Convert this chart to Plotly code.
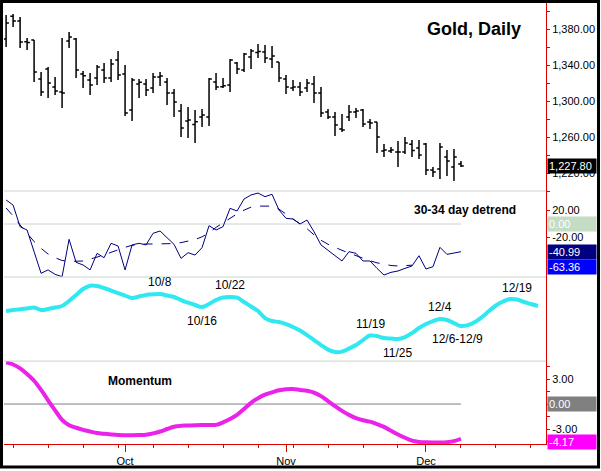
import pandas as pd
import plotly.graph_objects as go
from plotly.subplots import make_subplots

# trading days: bars run 9/6 - 12/9, the cycle projection runs on to 12/24
days = pd.bdate_range("2013-09-06", "2013-12-24", freq="C", holidays=["2013-11-28"])

opens = [1368.9, 1394.4, 1388.9, 1366.0, 1367.8, 1324.4, 1335.6, 1315.6, 1310.0, 1366.7,
         1368.9, 1330.0, 1323.3, 1325.6, 1334.4, 1325.6, 1345.6, 1330.0, 1290.0, 1319.0,
         1318.9, 1314.4, 1326.7, 1321.1, 1308.9, 1288.9, 1277.8, 1274.0, 1282.2, 1282.2,
         1321.1, 1316.0, 1317.8, 1342.2, 1334.4, 1348.9, 1354.0, 1354.4, 1346.7, 1343.3,
         1324.4, 1314.4, 1315.6, 1314.4, 1318.9, 1308.9, 1287.8, 1282.2, 1268.9, 1282.2,
         1287.8, 1290.0, 1276.7, 1276.7, 1244.4, 1244.4, 1243.3, 1243.3, 1252.0, 1247.8,
         1252.2, 1223.3, 1224.4, 1237.8, 1226.7, 1230.0]
highs = [1395.6, 1396.7, 1393.3, 1370.0, 1367.8, 1332.2, 1337.8, 1326.7, 1370.0, 1376.7,
         1370.0, 1333.3, 1331.1, 1340.0, 1342.2, 1346.7, 1355.6, 1340.0, 1325.6, 1324.4,
         1324.4, 1331.1, 1332.2, 1325.6, 1313.3, 1296.7, 1293.3, 1290.0, 1291.1, 1325.6,
         1331.1, 1325.6, 1346.7, 1343.3, 1353.3, 1357.8, 1363.3, 1362.2, 1361.1, 1343.3,
         1328.9, 1323.3, 1321.1, 1324.4, 1327.8, 1315.6, 1291.1, 1287.8, 1285.6, 1295.6,
         1292.2, 1291.1, 1280.0, 1276.7, 1252.2, 1248.9, 1255.6, 1260.0, 1256.7, 1256.7,
         1253.3, 1226.7, 1253.3, 1245.6, 1246.7, 1233.3]
lows = [1360.0, 1382.2, 1358.9, 1356.7, 1321.1, 1305.6, 1303.3, 1306.7, 1292.2, 1358.9,
        1325.6, 1314.4, 1306.7, 1317.8, 1320.0, 1321.1, 1323.3, 1283.3, 1277.8, 1303.3,
        1305.6, 1308.9, 1316.7, 1295.6, 1282.2, 1260.0, 1258.9, 1253.3, 1271.1, 1272.2,
        1312.2, 1314.4, 1310.0, 1330.0, 1332.2, 1335.6, 1347.8, 1342.2, 1336.7, 1321.1,
        1307.8, 1311.1, 1305.6, 1310.0, 1297.8, 1282.2, 1280.0, 1261.1, 1265.6, 1277.8,
        1281.1, 1271.1, 1268.9, 1242.2, 1237.8, 1242.2, 1226.7, 1241.1, 1237.8, 1235.6,
        1217.8, 1215.6, 1213.3, 1216.7, 1211.1, 1226.7]
closes = [1386.7, 1388.9, 1365.6, 1365.0, 1332.2, 1310.0, 1320.0, 1311.1, 1308.9, 1371.1,
          1334.4, 1328.0, 1317.8, 1337.8, 1325.6, 1341.1, 1328.9, 1286.7, 1323.3, 1321.0,
          1312.2, 1326.7, 1327.8, 1308.9, 1298.9, 1270.0, 1278.9, 1277.0, 1284.4, 1324.4,
          1315.6, 1317.0, 1345.6, 1335.6, 1352.2, 1355.6, 1355.0, 1347.8, 1350.0, 1325.6,
          1315.6, 1315.6, 1310.0, 1320.0, 1308.9, 1286.7, 1282.2, 1273.3, 1267.8, 1287.8,
          1288.9, 1274.4, 1275.6, 1260.0, 1245.6, 1245.6, 1243.3, 1253.3, 1245.0, 1240.0,
          1223.3, 1221.1, 1248.9, 1233.3, 1237.8, 1227.8]

detrend = [35.6, 28, -4, -8.9, -41, -73, -68, -74.6, -78, -22.7,
           -56.8, -60.7, -68, -43.5, -49.9, -28.6, -32.6, -68, -31, -28.6,
           -31, -13.8, -10.4, -20.2, -30.1, -50.9, -42.5, -46, -35, -2.5,
           -8.9, -3.9, 23.2, 19.3, 37, 43, 45.9, 40.5, 44, 20.7,
           8.4, 7.4, 0, 5.9, -11.4, -31, -38.5, -46, -54.8, -41,
           -43.5, -54.8, -54.8, -65.7, -75.6, -71.6, -69.6, -65.7, -62.2, -47,
           -66.7, -63.2, -34.6, -45, -43.5, -40.99]
detrend_avg = [23.7, 12, -1.5, -14, -26, -36, -44.5, -50, -54, -55.5,
               -55.5, -54.8, -52, -49.5, -46, -42, -38, -34.5, -31.5, -30,
               -29.6, -29.6, -29.6, -29.6, -29, -27.6, -25.5, -23, -19, -13,
               -5, 2, 8.5, 15, 20.5, 25, 26.5, 27, 26.5, 22,
               15, 7, 1, -7, -16, -24, -30, -35, -39, -43,
               -47, -51, -54.5, -57.5, -60, -61.5, -62.2, -62, -61]
avg_last = -63.36

cycle = [50, 51, 51.7, 52.5, 53.5, 51, 52, 53.5, 55, 60,
         66, 72, 75.3, 75, 73, 70.5, 68, 65.5, 63, 64.5,
         66, 66.7, 67, 65.5, 64, 61, 58.3, 56, 54, 57,
         61, 63.5, 64, 63.3, 59, 54.5, 50, 43, 40, 39,
         37, 34, 30.5, 26, 21, 16, 11.5, 9, 9.5, 12.5,
         16, 21, 25.5, 25, 23, 22.5, 22, 24, 28, 33,
         37, 40, 42, 41, 38, 35, 36, 39, 44, 50,
         55.5, 59.5, 62, 61.5, 59, 57, 55]

momentum = [5.0, 4.75, 4.28, 3.6, 2.8, 1.7, 0.45, -0.75, -1.9, -2.55,
            -2.85, -3.1, -3.3, -3.48, -3.58, -3.66, -3.72, -3.74, -3.74, -3.72,
            -3.68, -3.52, -3.3, -3.0, -2.72, -2.62, -2.58, -2.54, -2.52, -2.52,
            -2.5, -2.2, -1.8, -1.3, -0.6, 0.15, 0.7, 1.12, 1.4, 1.65,
            1.78, 1.8, 1.7, 1.6, 1.38, 0.95, 0.35, -0.25, -0.82, -1.3,
            -1.7, -1.95, -2.12, -2.4, -2.75, -3.2, -3.65, -4.05, -4.4, -4.55,
            -4.6, -4.62, -4.62, -4.58, -4.45, -4.17]

# cycle turning points (first and last date of the window) and whether it's a top
turn_labels = ["10/8", "10/16", "10/22", "11/19", "11/25", "12/4", "12/6-12/9", "12/19"]
turn_from = ["2013-10-08", "2013-10-16", "2013-10-22", "2013-11-19", "2013-11-25",
             "2013-12-04", "2013-12-06", "2013-12-19"]
turn_to = ["2013-10-08", "2013-10-16", "2013-10-22", "2013-11-19", "2013-11-25",
           "2013-12-04", "2013-12-09", "2013-12-19"]
turn_top = [True, False, True, True, False, True, False, True]

RED = "#dd0000"
FONT = "Arial, Liberation Sans, sans-serif"

xb = list(range(len(closes)))
xa = list(range(len(days)))
pos = {d.strftime("%Y-%m-%d"): i for i, d in enumerate(days)}
month_pos = [i for i in range(1, len(days)) if days[i].month != days[i - 1].month]
month_txt = [days[i].strftime("%b") for i in month_pos]
week_pos = [i for i, d in enumerate(days) if d.weekday() == 0]

fig = make_subplots(rows=4, cols=1, shared_xaxes=True, vertical_spacing=0)

fig.add_trace(go.Ohlc(x=xb, open=opens, high=highs, low=lows, close=closes,
                      increasing_line_color="black", decreasing_line_color="black",
                      line_width=1.5, tickwidth=0.4, hoverinfo="skip"), row=1, col=1)

fig.add_trace(go.Scatter(x=xb, y=detrend, mode="lines",
                         line=dict(color="#000080", width=1)), row=2, col=1)
fig.add_trace(go.Scatter(x=xb[:len(detrend_avg)], y=detrend_avg, mode="lines",
                         line=dict(color="#000080", width=1, dash="dash")), row=2, col=1)

fig.add_trace(go.Scatter(x=xa, y=cycle, mode="lines", line_shape="spline",
                         line=dict(color="#30e8f0", width=4)), row=3, col=1)

fig.add_trace(go.Scatter(x=xb, y=momentum, mode="lines", line_shape="spline",
                         line=dict(color="#ea22ea", width=4)), row=4, col=1)

xr = [-0.3, 77.15]
dom = {1: [0.5737, 1], 2: [0.3787, 0.5737], 3: [0.188, 0.3787], 4: [0, 0.188]}
tickfont = dict(family=FONT, size=11, color="black")

fig.update_xaxes(range=xr, showgrid=False, zeroline=False, showticklabels=False,
                 ticks="", rangeslider_visible=False)
fig.update_xaxes(row=4, col=1, showticklabels=True, showline=True, linecolor=RED,
                 linewidth=1, ticks="outside", ticklen=7, tickcolor=RED,
                 tickmode="array", tickvals=month_pos, ticktext=month_txt, tickfont=tickfont,
                 minor=dict(ticks="outside", ticklen=3, tickcolor=RED,
                            tickmode="array", tickvals=week_pos))

common_y = dict(side="right", showgrid=False, zeroline=False, showline=True,
                linecolor=RED, linewidth=1, ticks="outside", ticklen=3,
                tickcolor=RED, tickfont=tickfont)
fig.update_yaxes(row=1, col=1, domain=dom[1], range=[1200, 1409],
                 tickvals=list(range(1220, 1381, 40)), tickformat=",.2f",
                 minor=dict(ticks="outside", ticklen=3, tickcolor=RED, dtick=20, tick0=1200),
                 **common_y)
fig.update_yaxes(row=2, col=1, domain=dom[2], range=[-78.5, 48.9],
                 tickvals=[20, -20], ticktext=["20.00", "-20.00"], **common_y)
fig.update_yaxes(row=3, col=1, domain=dom[3], range=[0, 84], showticklabels=False,
                 **{k: v for k, v in common_y.items() if k != "ticks"}, ticks="")
fig.update_yaxes(row=4, col=1, domain=dom[4], range=[-4.8, 5.16],
                 tickvals=[3, -3], ticktext=["3.00", "-3.00"],
                 minor=dict(ticks="outside", ticklen=3, tickcolor=RED, dtick=1.5, tick0=0),
                 **common_y)

# panel separators
for yb in [dom[4][1], dom[3][1], dom[2][1]]:
    fig.add_shape(type="line", xref="paper", yref="paper", x0=0, x1=1, y0=yb, y1=yb,
                  line=dict(color="#c8d4c8", width=1))
# zero lines, drawn only as far as the data
fig.add_shape(type="line", xref="x2", yref="y2", x0=xr[0], x1=xb[-1], y0=0, y1=0,
              line=dict(color="#c8d4c8", width=1), layer="below")
fig.add_shape(type="line", xref="x4", yref="y4", x0=xr[0], x1=xb[-1], y0=0, y1=0,
              line=dict(color="#808080", width=1), layer="below")
# outer frame
fig.add_shape(type="rect", xref="paper", yref="paper",
              x0=-0.0046, x1=1.0969, y0=-0.0522, y1=1.0034,
              line=dict(color="black", width=3))


def value_box(text, yref, yval, bg, fg="white", shift=0):
    fig.add_annotation(xref="paper", yref=yref, x=1, y=yval, xanchor="left", xshift=1,
                       yanchor="middle", yshift=shift, text=text, showarrow=False,
                       width=46, height=12, borderpad=1, align="left", bgcolor=bg,
                       font=dict(family=FONT, size=11, color=fg))


value_box(f"{closes[-1]:,.2f}", "y", closes[-1], "black")
value_box("0.00", "y2", 0, "#c4dcc4")
value_box(f"{detrend[-1]:.2f}", "y2", detrend[-1], "#000080")
value_box(f"{avg_last:.2f}", "y2", avg_last, "#0000ff")
value_box("0.00", "y4", 0, "#808080")
value_box(f"{momentum[-1]:.2f}", "y4", momentum[-1], "#ff00ff", shift=-3)

fig.add_annotation(xref="paper", yref="paper", x=0.9576, y=0.941, xanchor="right",
                   yanchor="middle", text="<b>Gold, Daily</b>", showarrow=False,
                   font=dict(family=FONT, size=18, color="black"))
fig.add_annotation(xref="paper", yref="paper", x=0.948, y=0.5306, xanchor="right",
                   yanchor="middle", text="<b>30-34 day detrend</b>", showarrow=False,
                   font=dict(family=FONT, size=12, color="black"))
fig.add_annotation(xref="paper", yref="paper", x=0.251, y=0.1429, xanchor="center",
                   yanchor="middle", text="<b>Momentum</b>", showarrow=False,
                   font=dict(family=FONT, size=12, color="black"))

for lab, a, b, top in zip(turn_labels, turn_from, turn_to, turn_top):
    i0, i1 = pos[a], pos[b]
    xm = (i0 + i1) / 2
    ym = (cycle[i0] + cycle[i1]) / 2
    fig.add_annotation(xref="x3", yref="y3", x=xm, y=ym, text=lab, showarrow=False,
                       xanchor="center", yanchor="bottom" if top else "top",
                       yshift=3 if top else -5,
                       font=dict(family=FONT, size=12, color="black"))

fig.update_layout(width=601, height=471, showlegend=False,
                  margin=dict(l=4, r=55, t=3, b=27),
                  plot_bgcolor="white", paper_bgcolor="white",
                  font=dict(family=FONT, size=11, color="black"))

# the page's default body margin would push the chart 8px off the window
fig.write_html("out.html", config={"displayModeBar": False},
               post_script="document.body.style.margin='0';document.body.style.overflow='hidden';")
